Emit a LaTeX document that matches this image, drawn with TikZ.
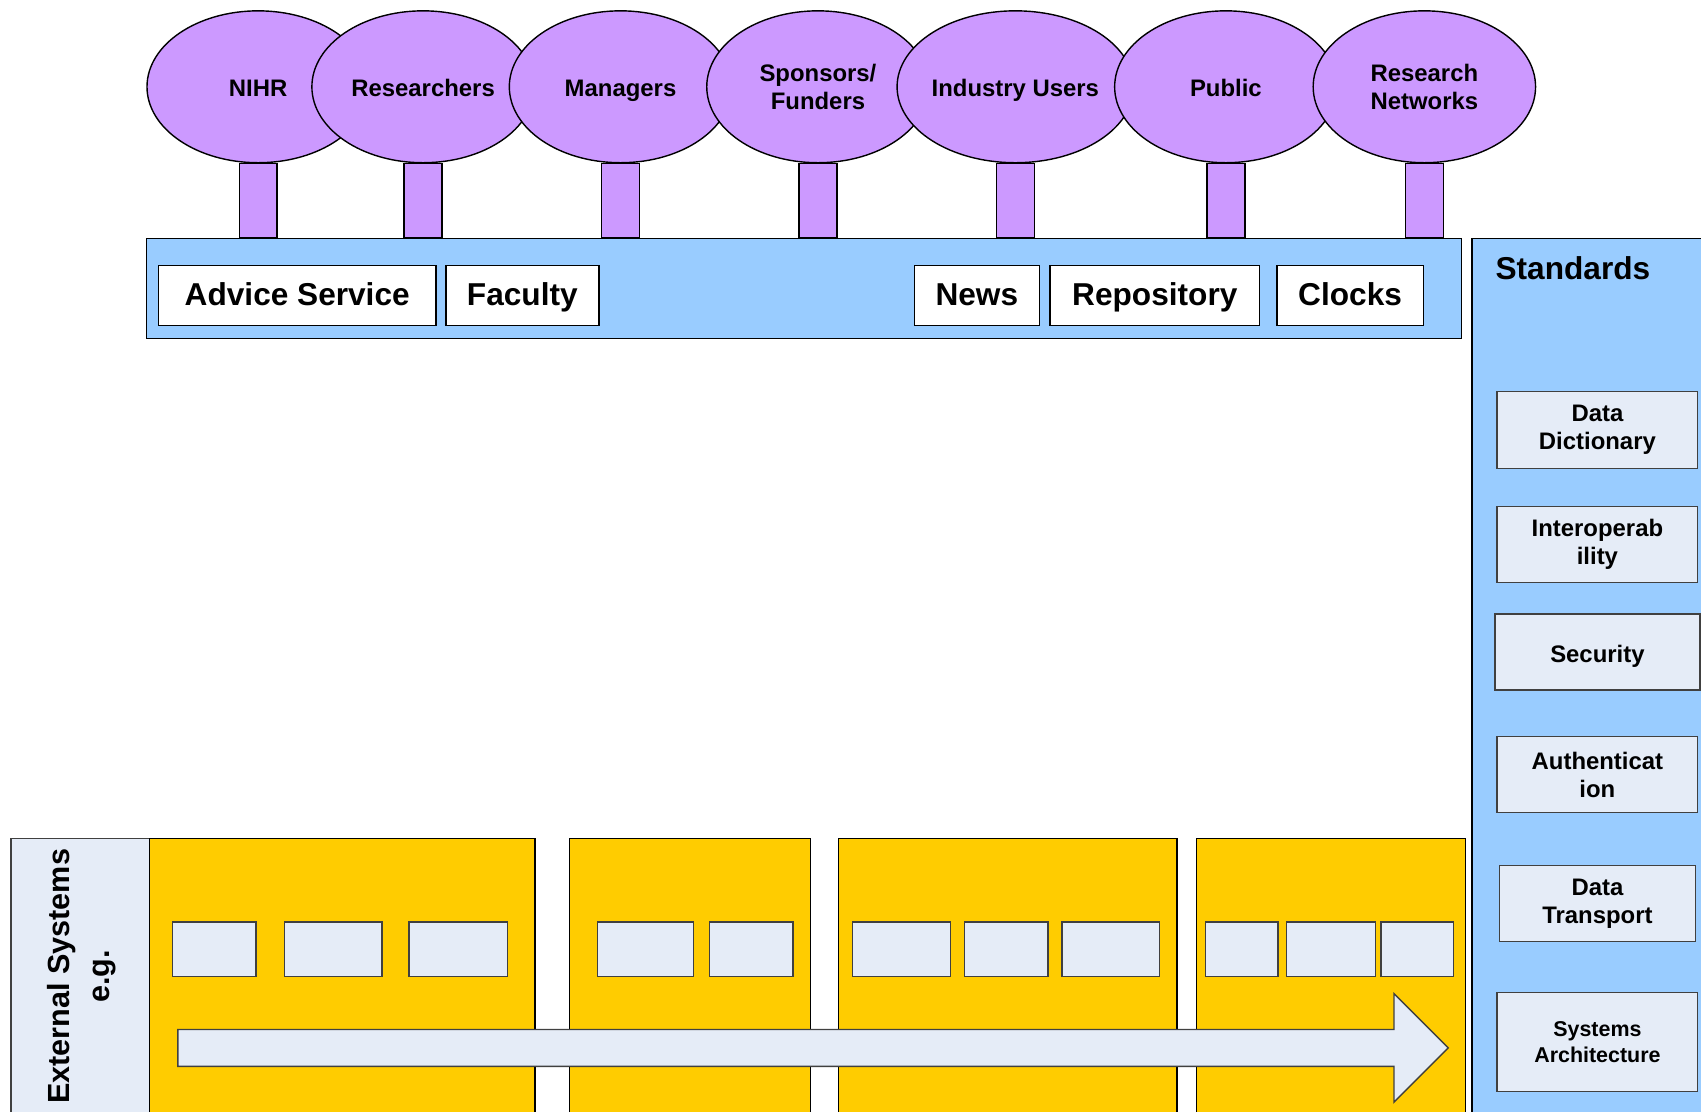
\documentclass[tikz,border=0pt]{standalone}
\usepackage{fontspec}
\setmainfont{Liberation Sans}
\usetikzlibrary{shapes.geometric,calc}
\definecolor{lilac}{HTML}{CC99FF}
\definecolor{skyblue}{HTML}{99CCFF}
\definecolor{amber}{HTML}{FFCC00}
\definecolor{paleblue}{HTML}{E5ECF7}
\newcommand\pxlen{0.1085mm}

\begin{document}
\begin{tikzpicture}[x=\pxlen,y=-\pxlen,line width=0.4pt,
    every node/.style={font=\bfseries},
    oneline/.style={text height=1.55ex,text depth=0.45ex},
    actor/.style={ellipse,draw,fill=lilac,inner sep=0pt,align=center,
      minimum width=205*\pxlen,minimum height=140*\pxlen,
      font=\bfseries\fontsize{6.8}{8}\selectfont},
    stem/.style={draw,fill=lilac},
    wbox/.style={draw,fill=white,inner sep=0pt,minimum height=55*\pxlen,oneline,
      font=\bfseries\fontsize{9}{11}\selectfont},
    stdbox/.style={draw=black!75,fill=paleblue,inner sep=0pt,align=center,
      minimum width=185*\pxlen,minimum height=70*\pxlen,
      font=\bfseries\fontsize{6.8}{8}\selectfont},
    cell/.style={draw=black!75,fill=paleblue},
    stage/.style={draw,fill=amber}]
  \useasboundingbox (0,0) rectangle (1568,1025);
  \clip (0,0) rectangle (1568,1025);
  %%%% the users
  \node[actor,oneline] (nihr) at (238,80) {NIHR};
  \node[actor,oneline] (res) at (390,80) {Researchers};
  \node[actor,oneline] (mgr) at (572,80) {Managers};
  \node[actor] (spons) at (754,80) {Sponsors/\\Funders};
  \node[actor,oneline] (ind) at (936,80) {Industry Users};
  \node[actor,oneline] (pub) at (1130,80) {Public};
  \node[actor] (rnet) at (1313,80) {Research\\Networks};
  %%%% the portal bar
  \node[draw,fill=skyblue,minimum width=1212*\pxlen,minimum height=92*\pxlen,
    inner sep=0pt] (portal) at (741,266) {};
  %% the stems
  \foreach \n in {nihr,res,mgr,spons,ind,pub,rnet}
  {
    \draw[stem] ($(\n.south)+(-17.5,0)$) rectangle ($(\n.south |- portal.north)+(17.5,0)$);
  }
  \node[wbox,minimum width=256*\pxlen] (advice) at (274,272.5) {Advice Service};
  \node[wbox,minimum width=141*\pxlen] (faculty) at (481.5,272.5) {Faculty};
  \node[wbox,minimum width=115*\pxlen] (news) at (900.5,272.5) {News};
  \node[wbox,minimum width=193*\pxlen] (repo) at (1064.5,272.5) {Repository};
  \node[wbox,minimum width=135*\pxlen] (clocks) at (1244.5,272.5) {Clocks};
  %%%% standards
  \draw[fill=skyblue] (1357,220) rectangle (1580,1040);
  \node[anchor=west,inner sep=0pt,font=\bfseries\fontsize{9}{11}\selectfont] (std) at (1378,247) {Standards};
  \node[stdbox,minimum height=71*\pxlen] (dict) at (1472.5,396.5) {Data\\Dictionary};
  \node[stdbox] (interop) at (1472.5,502) {Interoperab\\ility};
  \node[stdbox,minimum width=189*\pxlen,oneline] (secur) at (1472.5,601) {Security};
  \node[stdbox] (auth) at (1472.5,714) {Authenticat\\ion};
  \node[stdbox,minimum width=181*\pxlen] (transp) at (1472.5,833) {Data\\Transport};
  \node[stdbox,minimum height=91*\pxlen,font=\bfseries\fontsize{6.1}{7.4}\selectfont] (arch) at (1472.5,960.5) {Systems\\Architecture};
  %%%% external systems
  \draw[draw=black!75,fill=paleblue] (10,773) rectangle (138,1040);
  \node[rotate=90,align=center,font=\bfseries\fontsize{8.7}{11.4}\selectfont] (ext) at (75,900) {External Systems\\e.g.};
  %% the stages
  \foreach \a/\b in {138/493,525/747,773/1085,1103/1351}
    \draw[stage] (\a,773) rectangle (\b,1040);
  \foreach \a/\b in {159/236,262/352,377/468,551/639,654/731,786/876,889/966,979/1069,1111/1178,1186/1268,1273/1340}
    \draw[cell] (\a,850) rectangle (\b,900);
  %% the flow arrow
  \draw[cell] (164,949) -- (1285,949) -- (1285,916) -- (1335,966) -- (1285,1016) -- (1285,983) -- (164,983) -- cycle;
\end{tikzpicture}
\end{document}
